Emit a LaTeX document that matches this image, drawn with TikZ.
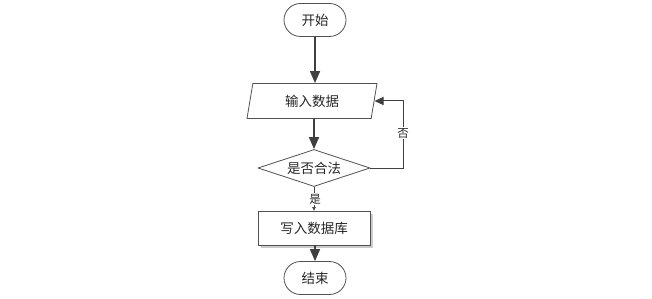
\documentclass[tikz,border=0pt]{standalone}
\usepackage{fontspec}
\newfontfamily\cjk{Noto Sans CJK SC}
\usetikzlibrary{shapes.geometric,shapes.misc,arrows.meta}
\definecolor{ln}{HTML}{404040}
\definecolor{bd}{HTML}{505050}
\tikzset{
  base/.style={draw=bd, line width=0.8pt, font=\cjk\fontsize{13.5}{15}\selectfont, text=black!85, inner sep=0pt},
  term/.style={base, rounded rectangle, minimum width=62pt, minimum height=33pt},
  io/.style={base, trapezium, trapezium left angle=65, trapezium right angle=115, minimum width=130pt, minimum height=35pt, trapezium stretches body},
  dec/.style={base, diamond, aspect=3, minimum width=112pt, minimum height=37pt},
  proc/.style={base, rectangle, minimum width=112pt, minimum height=34pt},
  flow/.style={draw=ln, line width=1.6pt, -{Triangle[width=10pt,length=12pt]}},
  back/.style={draw=ln, line width=1pt, -{Triangle[width=8pt,length=9pt]}},
  small/.style={draw=ln, line width=0.6pt, -{Triangle[width=3.5pt,length=3.5pt]}},
  lab/.style={font=\cjk\fontsize{11.5}{13}\selectfont, fill=white, inner sep=1pt, text=black!85}
}
\begin{document}
\begin{tikzpicture}[x=1pt,y=-1pt]
\useasboundingbox (0,0) rectangle (652,299);
\node[term] (start) at (315,20) {开始};
\node[io] (in) at (312,101) {输入数据};
\node[dec] (chk) at (314,168) {是否合法};
\fill[gray!40] (261,214) rectangle (373,248);
\node[proc, fill=white] (wr) at (314,228) {写入数据库};
\node[term] (end) at (315,278) {结束};
\coordinate (c1) at (403,168);
\coordinate (c2) at (403,101);
\draw[flow] (start) -- (start|-in.north);
\draw[flow] (in.south-|chk) -- (chk.north);
\draw[small] (chk.south) -- (wr.north);
\node[lab] at (315,199) {是};
\draw[back] (chk.east) -- (c1) -- (c2) -- (in.east|-c2);
\node[lab] at (403,133) {否};
\draw[flow] (wr.south-|end) -- (end.north);
\end{tikzpicture}
\end{document}
